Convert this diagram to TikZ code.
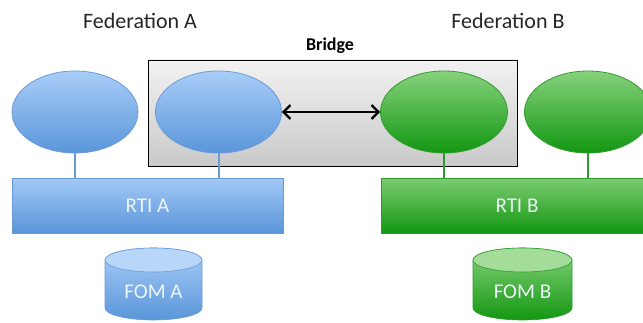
\documentclass[tikz,border=0pt]{standalone}
\usepackage{fontspec}
\setmainfont{Carlito}
\usetikzlibrary{shapes.geometric,arrows.meta}

\definecolor{bluetop}{HTML}{A9CDF8}
\definecolor{bluebot}{HTML}{5A96DA}
\definecolor{blueline}{HTML}{6A9BD6}
\definecolor{bluecap}{HTML}{B8D6F8}
\definecolor{greentop}{HTML}{86D27B}
\definecolor{greenbot}{HTML}{139712}
\definecolor{greenline}{HTML}{2F9B2C}
\definecolor{greencap}{HTML}{A4DD99}
\definecolor{bridgetop}{HTML}{F2F2F2}
\definecolor{bridgebot}{HTML}{C9C9C9}
\definecolor{labeltext}{HTML}{262626}
\definecolor{boxtext}{HTML}{EEF4FB}

\tikzset{
  fedblue/.style={ellipse, minimum width=126pt, minimum height=82pt, inner sep=0pt,
    draw=blueline, line width=0.8pt, top color=bluetop, bottom color=bluebot},
  fedgreen/.style={ellipse, minimum width=127pt, minimum height=82pt, inner sep=0pt,
    draw=greenline, line width=0.8pt, top color=greentop, bottom color=greenbot},
  rtiblue/.style={rectangle, draw=blueline, line width=0.6pt, top color=bluetop!90!bluebot,
    bottom color=bluebot, text=boxtext, font=\fontsize{21}{24}\selectfont},
  rtigreen/.style={rectangle, draw=greenline, line width=0.6pt, top color=greentop!90!greenbot,
    bottom color=greenbot, text=boxtext, font=\fontsize{21}{24}\selectfont},
  linkblue/.style={draw=blueline, line width=2pt},
  linkgreen/.style={draw=greenline, line width=2pt},
  fedlabel/.style={text=labeltext, font=\fontsize{22}{26}\selectfont},
  bridgelabel/.style={text=black, font=\bfseries\fontsize{18}{22}\selectfont},
  fomtext/.style={text=boxtext, font=\fontsize{21}{24}\selectfont},
  bridgearrow/.style={{Straight Barb[length=7pt,width=14pt,line width=2.2pt]}-{Straight Barb[length=7pt,width=14pt,line width=2.2pt]}, line width=2.4pt, black},
}

\begin{document}
\begin{tikzpicture}[x=1pt,y=1pt]
\useasboundingbox (0,0) rectangle (643,322);
\clip (0,0) rectangle (643,322);

% Bridge enclosure
\node[rectangle, draw=black, line width=0.9pt, top color=bridgetop, bottom color=bridgebot,
      minimum width=369pt, minimum height=106pt, inner sep=0pt] (bridge) at (332.5,209) {};
\node[bridgelabel] (bridgelbl) at (330,276) {Bridge};

% Federates
\node[fedblue]  (fa1) at (75,210)  {};
\node[fedblue]  (fa2) at (218.5,210) {};
\node[fedgreen] (fb1) at (444,210) {};
\node[fedgreen] (fb2) at (588,210) {};

% Run-time infrastructures
\node[rtiblue, minimum width=271pt, minimum height=55pt, inner sep=0pt] (rtia) at (147.5,116.5) {};
\node[fomtext] (rtiatext) at (rtia.center) {RTI A};
\node[rtigreen, minimum width=330pt, minimum height=55pt, inner sep=0pt] (rtib) at (546,116.5) {};
\node[fomtext] (rtibtext) at (517,116.5) {RTI B};

% Joins between federates and their RTI
\draw[linkblue]  (fa1.south) -- (fa1.south |- rtia.north);
\draw[linkblue]  (fa2.south) -- (fa2.south |- rtia.north);
\draw[linkgreen] (fb1.south) -- (fb1.south |- rtib.north);
\draw[linkgreen] (fb2.south) -- (fb2.south |- rtib.north);

% Bridge link
\draw[bridgearrow] (fa2.east) -- (fb1.west);

% Federation titles
\node[fedlabel] (feda) at (140,301) {Federation A};
\node[fedlabel] (fedb) at (508,301) {Federation B};

% FOM cylinders
\shade[top color=bluetop, bottom color=bluebot, draw=blueline, line width=0.6pt]
  (105,62) -- (105,14) arc[start angle=180, end angle=360, x radius=48.5, y radius=12]
  -- (202,62) arc[start angle=0, end angle=180, x radius=48.5, y radius=12] -- cycle;
\filldraw[fill=bluecap, draw=blueline, line width=0.6pt] (153.5,62) ellipse[x radius=48.5, y radius=12];
\node[fomtext] (foma) at (153.5,30) {FOM A};

\shade[top color=greentop, bottom color=greenbot, draw=greenline, line width=0.6pt]
  (473,62) -- (473,14) arc[start angle=180, end angle=360, x radius=49.5, y radius=12]
  -- (572,62) arc[start angle=0, end angle=180, x radius=49.5, y radius=12] -- cycle;
\filldraw[fill=greencap, draw=greenline, line width=0.6pt] (522.5,62) ellipse[x radius=49.5, y radius=12];
\node[fomtext] (fomb) at (522.5,30) {FOM B};
\end{tikzpicture}
\end{document}
